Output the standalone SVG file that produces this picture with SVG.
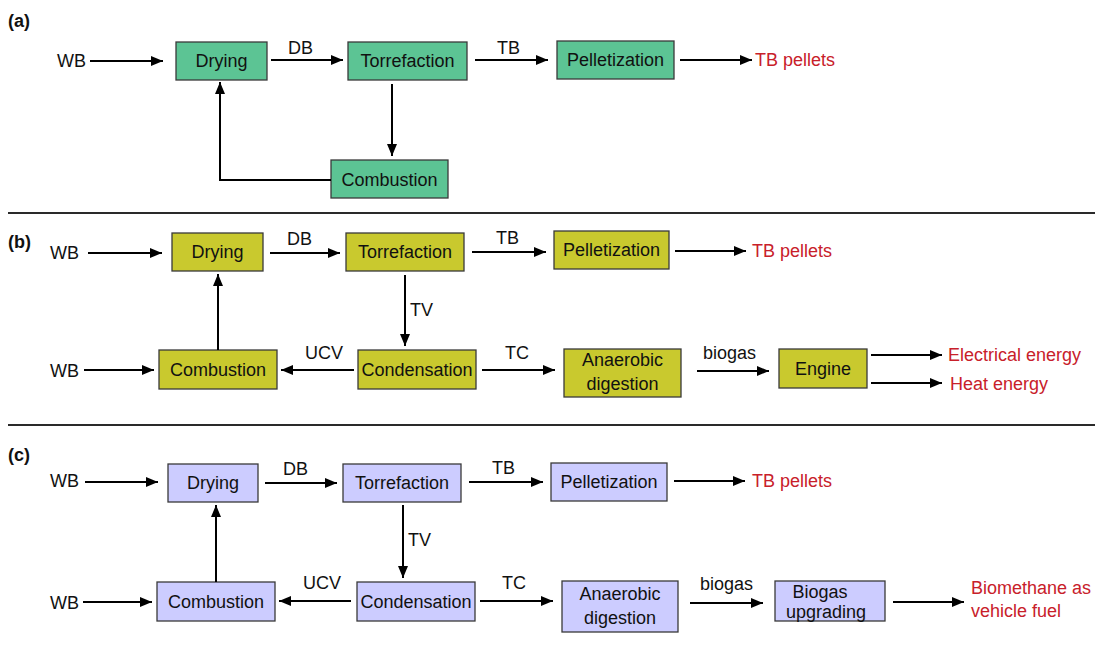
<svg xmlns="http://www.w3.org/2000/svg" width="1103" height="655" viewBox="0 0 1103 655">
<style>
text{font-family:"Liberation Sans",Arial,sans-serif;font-size:18px;fill:#111}
.lbl{font-weight:bold;font-size:18px}
.out{fill:#c8202a}
.c{text-anchor:middle}
.ga rect{fill:#5cc494;stroke:#3a3a3a;stroke-width:1.3}
.gb rect{fill:#c9c92e;stroke:#3a3a3a;stroke-width:1.3}
.gc rect{fill:#ccccff;stroke:#3a3a3a;stroke-width:1.3}
.e{fill:none;stroke:#000;stroke-width:2;marker-end:url(#ah)}
.sep{stroke:#2a2a2a;stroke-width:2}
</style>
<defs>
<marker id="ah" markerUnits="userSpaceOnUse" markerWidth="12" markerHeight="10" refX="12" refY="5" orient="auto">
<path d="M0,0 L12,5 L0,10 z" fill="#000"/>
</marker>
</defs>
<rect width="1103" height="655" fill="#fff"/>
<line class="sep" x1="8" y1="213" x2="1095" y2="213"/>
<line class="sep" x1="8" y1="425" x2="1095" y2="425"/>

<!-- Panel a -->
<text class="lbl" x="8" y="27">(a)</text>
<text x="57" y="67">WB</text>
<text class="out" x="755" y="66">TB pellets</text>
<text x="288" y="54">DB</text>
<text x="497" y="54">TB</text>
<g class="ga" id="a-drying"><rect x="176" y="42" width="91" height="38"/><text class="c" x="221.5" y="67">Drying</text></g>
<g class="ga" id="a-torr"><rect x="348" y="42" width="119" height="38"/><text class="c" x="407.5" y="67">Torrefaction</text></g>
<g class="ga" id="a-pell"><rect x="557" y="41" width="117" height="38"/><text class="c" x="615.5" y="66">Pelletization</text></g>
<g class="ga" id="a-comb"><rect x="331" y="160" width="117" height="38"/><text class="c" x="389.5" y="186">Combustion</text></g>
<g id="a-edges">
<line class="e" x1="90" y1="61" x2="163" y2="61"/>
<line class="e" x1="271" y1="60" x2="343" y2="60"/>
<line class="e" x1="475" y1="60" x2="548" y2="60"/>
<line class="e" x1="680" y1="60" x2="752" y2="60"/>
<line class="e" x1="392" y1="84" x2="392" y2="156"/>
<polyline class="e" points="331,180 220,180 220,82"/>
</g>

<!-- Panel b -->
<text class="lbl" x="8" y="248">(b)</text>
<text x="50" y="259">WB</text>
<text x="50" y="377">WB</text>
<text x="287" y="245">DB</text>
<text x="496" y="244">TB</text>
<text x="410" y="316">TV</text>
<text x="305" y="359">UCV</text>
<text x="505" y="359">TC</text>
<text x="703" y="359">biogas</text>
<text class="out" x="752" y="257">TB pellets</text>
<text class="out" x="948" y="361">Electrical energy</text>
<text class="out" x="950" y="390">Heat energy</text>
<g class="gb" id="b-drying"><rect x="172" y="233" width="91" height="38"/><text class="c" x="217.5" y="258">Drying</text></g>
<g class="gb" id="b-torr"><rect x="346" y="233" width="118" height="38"/><text class="c" x="405" y="258">Torrefaction</text></g>
<g class="gb" id="b-pell"><rect x="554" y="231" width="115" height="38"/><text class="c" x="611.5" y="256">Pelletization</text></g>
<g class="gb" id="b-comb"><rect x="159" y="350" width="118" height="39"/><text class="c" x="218" y="376">Combustion</text></g>
<g class="gb" id="b-cond"><rect x="358" y="350" width="118" height="39"/><text class="c" x="417" y="376">Condensation</text></g>
<g class="gb" id="b-ad"><rect x="564" y="349" width="117" height="48"/><text class="c" x="622.5" y="366">Anaerobic</text><text class="c" x="622.5" y="390">digestion</text></g>
<g class="gb" id="b-engine"><rect x="779" y="349" width="88" height="39"/><text class="c" x="823" y="375">Engine</text></g>
<g id="b-edges">
<line class="e" x1="88" y1="253" x2="162" y2="253"/>
<line class="e" x1="270" y1="253" x2="340" y2="253"/>
<line class="e" x1="472" y1="252" x2="546" y2="252"/>
<line class="e" x1="675" y1="251" x2="746" y2="251"/>
<line class="e" x1="405" y1="275" x2="405" y2="346"/>
<line class="e" x1="354" y1="370" x2="281" y2="370"/>
<line class="e" x1="84" y1="370" x2="154" y2="370"/>
<line class="e" x1="218" y1="350" x2="218" y2="274"/>
<line class="e" x1="482" y1="370" x2="555" y2="370"/>
<line class="e" x1="697" y1="371" x2="769" y2="371"/>
<line class="e" x1="871" y1="355" x2="942" y2="355"/>
<line class="e" x1="871" y1="383" x2="942" y2="383"/>
</g>

<!-- Panel c -->
<text class="lbl" x="8" y="461">(c)</text>
<text x="50" y="487">WB</text>
<text x="50" y="609">WB</text>
<text x="283" y="475">DB</text>
<text x="492" y="474">TB</text>
<text x="408" y="546">TV</text>
<text x="303" y="589">UCV</text>
<text x="502" y="589">TC</text>
<text x="700" y="590">biogas</text>
<text class="out" x="752" y="487">TB pellets</text>
<text class="out" x="971" y="594">Biomethane as</text>
<text class="out" x="971" y="617">vehicle fuel</text>
<g class="gc" id="c-drying"><rect x="168" y="464" width="90" height="38"/><text class="c" x="213" y="489">Drying</text></g>
<g class="gc" id="c-torr"><rect x="343" y="464" width="118" height="38"/><text class="c" x="402" y="489">Torrefaction</text></g>
<g class="gc" id="c-pell"><rect x="551" y="463" width="116" height="38"/><text class="c" x="609" y="488">Pelletization</text></g>
<g class="gc" id="c-comb"><rect x="157" y="582" width="118" height="39"/><text class="c" x="216" y="608">Combustion</text></g>
<g class="gc" id="c-cond"><rect x="357" y="582" width="118" height="39"/><text class="c" x="416" y="608">Condensation</text></g>
<g class="gc" id="c-ad"><rect x="562" y="581" width="116" height="51"/><text class="c" x="620" y="600">Anaerobic</text><text class="c" x="620" y="624">digestion</text></g>
<g class="gc" id="c-up"><rect x="775" y="581" width="110" height="40"/><text class="c" x="820" y="598">Biogas</text><text class="c" x="826" y="618">upgrading</text></g>
<g id="c-edges">
<line class="e" x1="85" y1="482" x2="158" y2="482"/>
<line class="e" x1="265" y1="483" x2="337" y2="483"/>
<line class="e" x1="469" y1="482" x2="543" y2="482"/>
<line class="e" x1="674" y1="481" x2="745" y2="481"/>
<line class="e" x1="403" y1="505" x2="403" y2="578"/>
<line class="e" x1="351" y1="601" x2="279" y2="601"/>
<line class="e" x1="83" y1="602" x2="152" y2="602"/>
<line class="e" x1="216" y1="582" x2="216" y2="505"/>
<line class="e" x1="480" y1="601" x2="553" y2="601"/>
<line class="e" x1="690" y1="603" x2="763" y2="603"/>
<line class="e" x1="893" y1="602" x2="964" y2="602"/>
</g>
</svg>
